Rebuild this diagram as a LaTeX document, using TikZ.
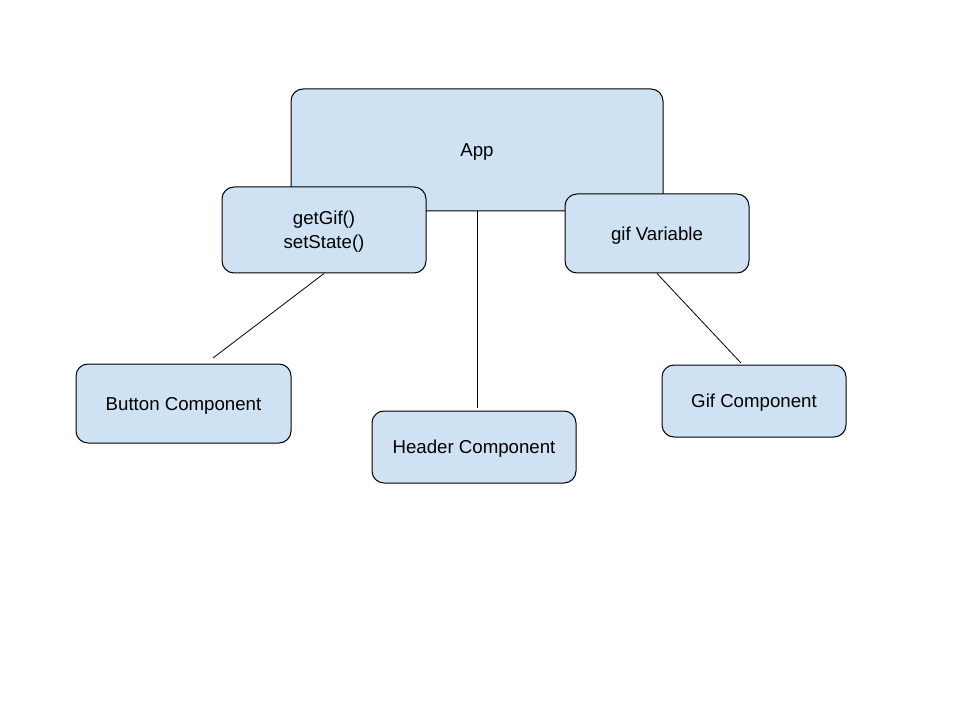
\documentclass[tikz,border=0pt]{standalone}
\usepackage{fontspec}
\setmainfont{Liberation Sans}
\usepackage{xcolor}
\usepackage{tikz}
\usetikzlibrary{positioning}
\definecolor{boxblue}{HTML}{CFE2F3}

\begin{document}
\begin{tikzpicture}[x=0.75pt, y=-0.75pt,
    comp/.style={draw, line width=0.75pt, rounded corners=9pt, fill=boxblue,
                 align=center, inner sep=0pt, text depth=0pt,
                 font=\fontsize{14}{18}\selectfont},
    link/.style={line width=0.6pt}]

  \useasboundingbox (0,0) rectangle (960,720);

  \node[comp, minimum width=279pt, minimum height=91.5pt] (app) at (477,150) {App};
  \draw[link] (app.south) -- (477,211) coordinate (appfoot);

  \node[comp, minimum width=153pt, minimum height=64.5pt] (getgif) at (324,230) {getGif()\\setState()};
  \node[comp, minimum width=138pt, minimum height=59.25pt] (gifvar) at (657,233.5) {gif Variable};

  \node[comp, minimum width=161.25pt, minimum height=59.25pt] (button) at (183.5,403.5) {Button Component};
  \node[comp, minimum width=153pt, minimum height=54pt] (header) at (474,447) {Header Component};
  \node[comp, minimum width=138pt, minimum height=54pt] (gifcomp) at (754,401) {Gif Component};

  % loose ends of the connectors
  \coordinate (buttonend) at (213,358);
  \coordinate (headerend) at (477,408);
  \coordinate (gifend) at (741,363);

  \draw[link] (getgif.south) -- (buttonend);
  \draw[link] (appfoot) -- (headerend);
  \draw[link] (gifvar.south) -- (gifend);
\end{tikzpicture}
\end{document}
